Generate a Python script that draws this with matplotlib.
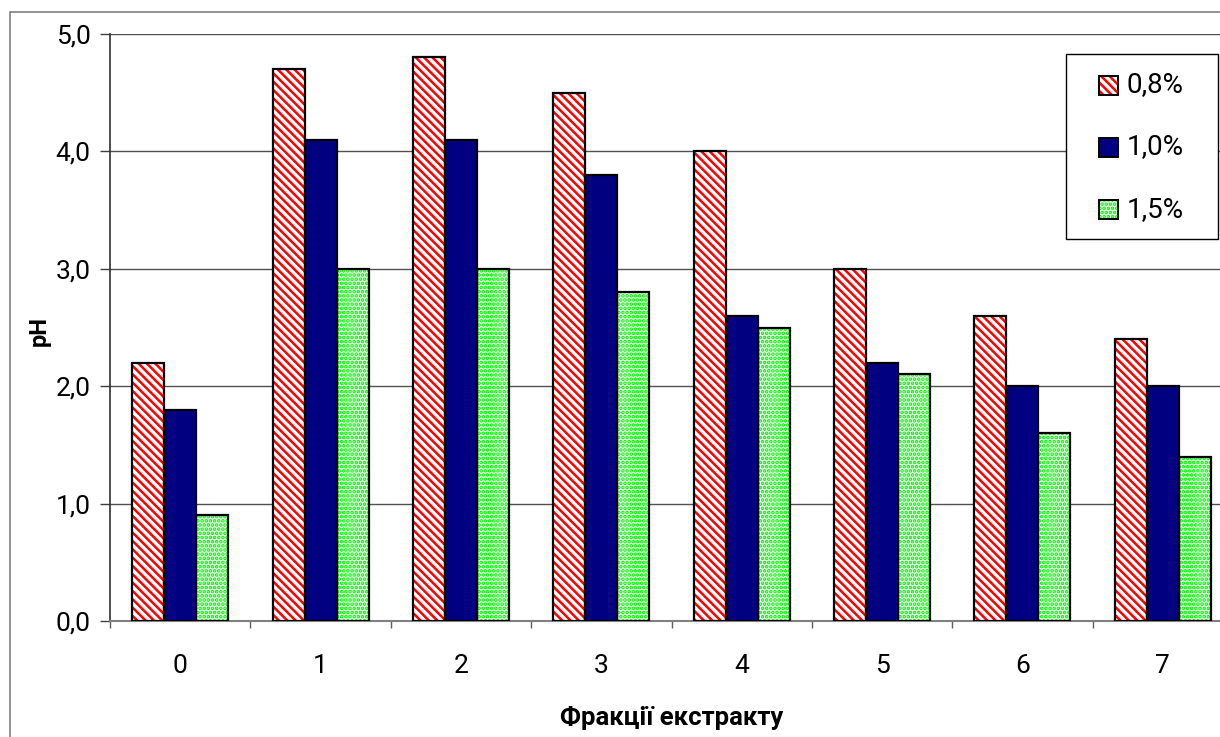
import matplotlib
matplotlib.use("Agg")
import matplotlib.pyplot as plt
import numpy as np
from matplotlib.patches import Rectangle
from matplotlib.ticker import FixedLocator, FuncFormatter

plt.rcParams['font.family'] = ['Roboto', 'DejaVu Sans']
plt.rcParams['hatch.linewidth'] = 1.8

categories = ['0', '1', '2', '3', '4', '5', '6', '7']
series_labels = ['0,8%', '1,0%', '1,5%']
ph_08 = [2.2, 4.7, 4.8, 4.5, 4.0, 3.0, 2.6, 2.4]
ph_10 = [1.8, 4.1, 4.1, 3.8, 2.6, 2.2, 2.0, 2.0]
ph_15 = [0.9, 3.0, 3.0, 2.8, 2.5, 2.1, 1.6, 1.4]

W, H = 1220, 737
fig = plt.figure(figsize=(W / 100, H / 100), dpi=100)


def px(x, y):
    """Pixel position (from top-left) to figure fraction."""
    return x / W, 1 - y / H


# outer chart frame (runs off the right and bottom edges)
fig.patches.append(Rectangle((10 / W, -0.05), 1.2, 1.05 - 12 / H,
                             transform=fig.transFigure, fill=False,
                             edgecolor='#808080', linewidth=1.2))

ax_left, ax_right = 110 / W, 1233 / W
ax_bottom, ax_top = 1 - 621 / H, 1 - 34 / H
ax = fig.add_axes([ax_left, ax_bottom, ax_right - ax_left, ax_top - ax_bottom])

x = np.arange(len(categories))
bw = 0.228
styles = [
    dict(face='white', hatch='\\' * 4, hcolor='#ff0000'),
    dict(face='#000080', hatch=None, hcolor='#000080'),
    dict(face='#e6ffe6', hatch='.' * 4, hcolor='#00ee00'),
]
for i, (vals, st) in enumerate(zip([ph_08, ph_10, ph_15], styles)):
    pos = x + (i - 1) * bw
    ax.bar(pos, vals, width=bw, color=st['face'], edgecolor=st['hcolor'],
           hatch=st['hatch'], linewidth=0, zorder=3)
    ax.bar(pos, vals, width=bw, fill=False, edgecolor='black',
           linewidth=1.6, zorder=4)

ax.set_xlim(-0.5, len(categories) - 0.5)
ax.set_ylim(0, 5.0)
ax.set_yticks(np.arange(0, 5.01, 1.0))
ax.yaxis.set_major_formatter(FuncFormatter(lambda v, p: f"{v:.1f}".replace('.', ',')))
ax.grid(axis='y', color='#505050', linewidth=1.0, zorder=1)
ax.set_axisbelow(True)

ax.set_xticks(x)
ax.set_xticklabels(categories)
ax.xaxis.set_minor_locator(FixedLocator(np.arange(-0.5, len(categories), 1.0)))
ax.tick_params(axis='x', which='major', length=0, pad=24, labelsize=19)
ax.tick_params(axis='x', which='minor', length=5, width=1, color='#606060', direction='out')
ax.tick_params(axis='y', length=7, width=1, pad=7, labelsize=19, direction='out',
               color='#404040')

for s in ['top', 'right']:
    ax.spines[s].set_visible(False)
ax.spines['left'].set_linewidth(1.2)
ax.spines['left'].set_color('#303030')
ax.spines['bottom'].set_color('#808080')
ax.spines['bottom'].set_linewidth(1.5)

fig.text(*px(39, 331), 'pH', fontsize=17, fontweight='bold',
         rotation=90, ha='center', va='center')
fig.text(*px(672, 718), 'Фракції екстракту', fontsize=18.5, fontweight='bold',
         ha='center', va='center')

# legend box
lx0, ly0 = px(1066, 239)
lx1, ly1 = px(1218, 54)
fig.patches.append(Rectangle((lx0, ly0), lx1 - lx0, ly1 - ly0, transform=fig.transFigure,
                             facecolor='white', edgecolor='black', linewidth=1.0, zorder=5))
sq = 19
for (label, st), cy in zip(zip(series_labels, styles), [85, 147, 210]):
    hx, hy = px(1099, cy + sq / 2)
    for kw in (dict(facecolor=st['face'], edgecolor=st['hcolor'], hatch=st['hatch'], linewidth=0),
               dict(fill=False, edgecolor='black', linewidth=1.4)):
        fig.patches.append(Rectangle((hx, hy), sq / W, sq / H, transform=fig.transFigure,
                                     zorder=6, **kw))
    fig.text(*px(1127, cy), label, fontsize=20, ha='left', va='center', zorder=7)

fig.savefig('out.png', dpi=100)
